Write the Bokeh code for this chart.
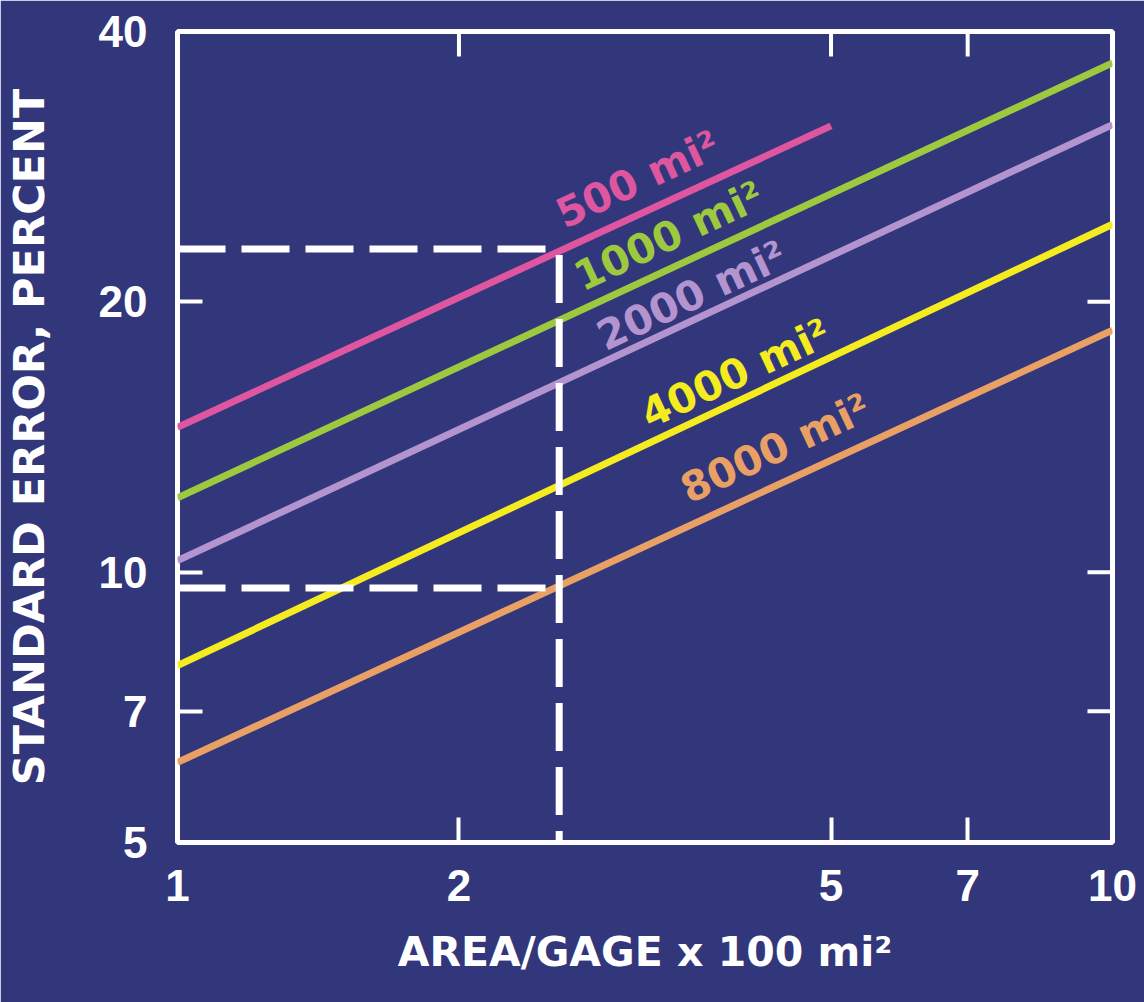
from bokeh.plotting import figure
from bokeh.models import FixedTicker, ColumnDataSource, NumeralTickFormatter
from bokeh.core.properties import value
from bokeh.embed import file_html
from bokeh.resources import INLINE

# Standard error of estimate versus area per gage, for several basin sizes
area_per_gage = [1, 10]          # x 100 mi2
area_per_gage_500 = [1, 5]
err_500 = [14.5, 31.4]
err_1000 = [12.1, 36.9]
err_2000 = [10.3, 31.5]
err_4000 = [7.87, 24.4]
err_8000 = [6.14, 18.6]

series_names = ["500 mi²", "1000 mi²", "2000 mi²", "4000 mi²", "8000 mi²"]
series_colors = ["#DE56A0", "#9DC93F", "#B394CF", "#F5EC1F", "#E9A065"]

# label anchor points (start of text, on the baseline)
label_x = [2.557, 2.673, 2.828, 3.151, 3.476]
label_y = [24.9, 21.2, 18.2, 14.9, 12.3]

# worked example read-off
example_area = 2.56
example_err_hi = 22.9
example_err_lo = 9.6

x_ticks = [1, 2, 5, 7, 10]
y_ticks = [5, 7, 10, 20, 40]
x_max, y_max = 10, 40

BG = "#32367A"
WHITE = "#FFFFFF"

p = figure(width=1144, height=1002, x_axis_type="log", y_axis_type="log",
           x_range=(1, x_max), y_range=(5, y_max),
           output_backend="svg", toolbar_location=None,
           background_fill_color=BG, border_fill_color=BG,
           min_border_left=175, min_border_right=32,
           min_border_top=31, min_border_bottom=160)
p.grid.visible = False
p.outline_line_color = WHITE
p.outline_line_width = 5

# curves
xs_all = [area_per_gage_500, area_per_gage, area_per_gage, area_per_gage, area_per_gage]
ys_all = [err_500, err_1000, err_2000, err_4000, err_8000]
for xs, ys, c in zip(xs_all, ys_all, series_colors):
    p.line(xs, ys, line_color=c, line_width=7)

# dashed guide lines
dash = "48 16"
p.line([1, example_area], [example_err_hi, example_err_hi], line_color=WHITE,
       line_width=7, line_dash=dash)
p.line([1, example_area], [example_err_lo, example_err_lo], line_color=WHITE,
       line_width=7, line_dash=dash)
p.line([example_area, example_area], [example_err_hi * 0.985, 5], line_color=WHITE,
       line_width=7, line_dash=dash)

# curve labels
src = ColumnDataSource(dict(x=label_x, y=label_y, text=series_names, color=series_colors))
p.text(x="x", y="y", text="text", source=src, text_color="color",
       angle=25, angle_units="deg", text_align="left", text_baseline="alphabetic",
       text_font=value("DejaVu Sans"), text_font_style="bold", text_font_size="41px")

# inward tick marks mirrored on the top and right edges of the frame
p.ray(x=x_ticks, y=[y_max] * len(x_ticks), length=25, length_units="screen",
      angle=-90, angle_units="deg", line_color=WHITE, line_width=4)
p.ray(x=[x_max] * len(y_ticks), y=y_ticks, length=25, length_units="screen",
      angle=180, angle_units="deg", line_color=WHITE, line_width=4)

def style_axis(ax, ticks):
    ax.ticker = FixedTicker(ticks=ticks, minor_ticks=[])
    ax.formatter = NumeralTickFormatter(format="0")
    ax.axis_line_color = None
    ax.major_tick_in = 25
    ax.major_tick_out = 0
    ax.minor_tick_in = 0
    ax.minor_tick_out = 0
    ax.major_tick_line_color = WHITE
    ax.major_tick_line_width = 4
    ax.major_label_text_color = WHITE
    ax.major_label_text_font = "Liberation Sans"
    ax.major_label_text_font_style = "bold"
    ax.major_label_text_font_size = "44px"
    ax.axis_label_text_color = WHITE
    ax.axis_label_text_font = "DejaVu Sans"
    ax.axis_label_text_font_style = "bold"

xa = p.xaxis[0]
style_axis(xa, x_ticks)
xa.major_label_standoff = 27
xa.axis_label = "AREA/GAGE x 100 mi²"
xa.axis_label_text_font_size = "41px"
xa.axis_label_standoff = 24

ya = p.yaxis[0]
style_axis(ya, y_ticks)
ya.major_label_standoff = 30
ya.axis_label = "STANDARD ERROR, PERCENT"
ya.axis_label_text_font_size = "43px"
ya.axis_label_standoff = 42

open("out.html", "w").write(file_html(p, INLINE))
